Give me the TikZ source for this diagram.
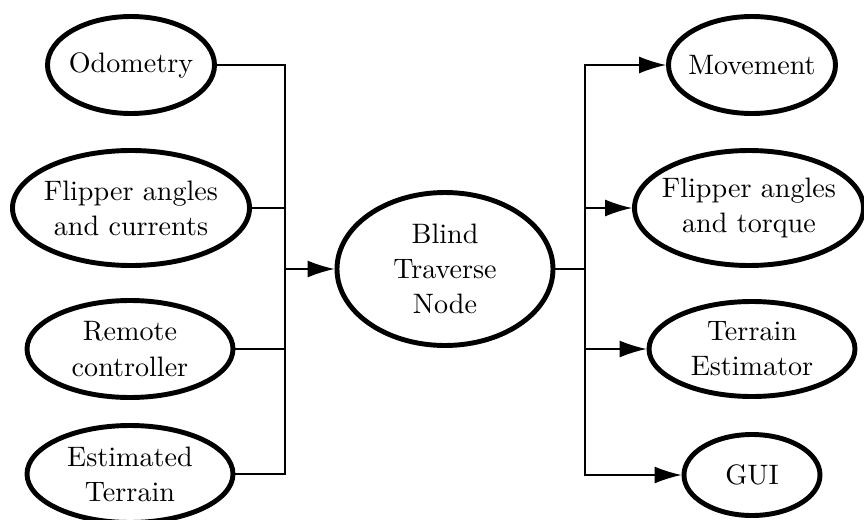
\documentclass[tikz,border=0pt]{standalone}
\usepackage{fontspec}
\usepackage{tikz}
\usetikzlibrary{shapes.geometric, positioning, arrows.meta, calc}
\setmainfont{lmroman10-regular.otf}

\begin{document}
\begin{tikzpicture}[
    every node/.style={font=\fontsize{16}{20}\selectfont},
    topic/.style={draw, ellipse, line width=2.8pt, inner xsep=-0.2cm, inner ysep=0pt, align=center},
    link/.style={line width=0.8pt},
    feed/.style={line width=0.8pt, -{Latex[length=0.54cm, width=0.34cm]}}
]
        \useasboundingbox (0,0) rectangle (17.28,10.38);

        % Input topics
        \node[topic, minimum width=3.34cm, minimum height=1.94cm] (odo) at (2.62, 9.08) {Odometry};
        \node[topic, minimum width=4.74cm, minimum height=2.3cm] (flipin) at (2.62, 6.22) {Flipper angles\\ and currents};
        \node[topic, minimum width=4.12cm, minimum height=1.94cm] (remote) at (2.60, 3.40) {Remote\\controller};
        \node[topic, minimum width=4.12cm, minimum height=1.94cm] (estter) at (2.60, 0.90) {Estimated\\Terrain};

        % Central node
        \node[topic, minimum width=4.32cm, minimum height=3.06cm] (blind) at (8.90, 5.00) {Blind\\Traverse\\Node};

        % Output topics
        \node[topic, minimum width=3.34cm, minimum height=1.94cm] (move) at (15.04, 9.08) {Movement};
        \node[topic, minimum width=4.58cm, minimum height=2.3cm] (flipout) at (14.98, 6.22) {Flipper angles\\ and torque};
        \node[topic, minimum width=4.12cm, minimum height=1.9cm] (terrest) at (15.04, 3.40) {Terrain\\Estimator};
        \node[topic, minimum width=2.72cm, minimum height=1.62cm] (gui) at (15.04, 0.88) {GUI};

        % Bus joints
        \coordinate (inbus) at (5.70, 5.00);
        \coordinate (outbus) at (11.70, 5.00);

        % Inputs into the node
        \draw[link] (odo.east) -| (inbus);
        \draw[link] (flipin.east) -| (inbus);
        \draw[link] (remote.east) -| (inbus);
        \draw[link] (estter.east) -| (inbus);
        \draw[feed] (inbus) -- (blind.west);

        % Outputs from the node
        \draw[link] (blind.east) -- (outbus);
        \draw[feed] (outbus) |- (move.west);
        \draw[feed] (outbus) |- (flipout.west);
        \draw[feed] (outbus) |- (terrest.west);
        \draw[feed] (outbus) |- (gui.west);
\end{tikzpicture}
\end{document}
